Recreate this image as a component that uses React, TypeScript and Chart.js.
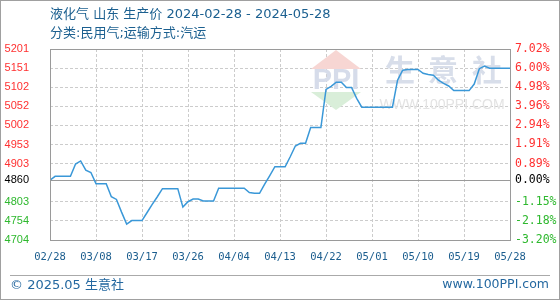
import React, { useEffect, useRef } from 'react';
import { Chart, registerables } from 'chart.js';

Chart.register(...registerables);

const TITLE = '液化气 山东 生产价 2024-02-28 - 2024-05-28';
const SUBTITLE = '分类:民用气;运输方式:汽运';
const FOOTER_LEFT = '© 2025.05 生意社';
const FOOTER_RIGHT = 'www.100PPI.com';
const WATERMARK_CN = ['生', '意', '社'];
const WATERMARK_URL = 'WWW.100PPI.COM';

const xTickLabels = ['02/28', '03/08', '03/17', '03/26', '04/04', '04/13', '04/22', '05/01', '05/10', '05/19', '05/28'];
const X_TICK_STEP = 9;

const basePrice = 4860;
const pctTicks = [-3.2, -2.18, -1.15, 0, 0.89, 1.91, 2.94, 3.96, 4.98, 6.0, 7.02];
const priceTickLabels = ['4704', '4754', '4803', '4860', '4903', '4953', '5002', '5052', '5102', '5151', '5201'];
const pctTickLabels = ['-3.20%', '-2.18%', '-1.15%', '0.00%', '0.89%', '1.91%', '2.94%', '3.96%', '4.98%', '6.00%', '7.02%'];

// daily prices 2024-02-28 .. 2024-05-28
const prices = [
  4860, 4870, 4870, 4870, 4870, 4902, 4910, 4886, 4880, 4851,
  4851, 4851, 4817, 4810, 4777, 4746, 4755, 4755, 4755, 4776,
  4797, 4817, 4838, 4838, 4838, 4838, 4790, 4804, 4811, 4811,
  4806, 4806, 4806, 4839, 4839, 4839, 4839, 4839, 4839, 4828,
  4826, 4826, 4850, 4872, 4895, 4895, 4895, 4921, 4949, 4956,
  4956, 4997, 4997, 4997, 5096, 5104, 5115, 5115, 5101, 5101,
  5073, 5050, 5050, 5050, 5050, 5050, 5050, 5050, 5120, 5146,
  5148, 5148, 5148, 5138, 5135, 5133, 5120, 5112, 5105, 5093,
  5093, 5093, 5093, 5110, 5150, 5157, 5151, 5151, 5151, 5151,
  5151,
];

const yTickValues = pctTicks.map((p) => basePrice * (1 + p / 100));

const TEXT_FONT = '"DejaVu Sans", "Noto Sans CJK SC"';

const decorPlugin = {
  id: 'decor',
  beforeDraw(chart: any) {
    const ctx = chart.ctx;
    ctx.save();
    ctx.fillStyle = '#ffffff';
    ctx.fillRect(0, 0, chart.width, chart.height);
    ctx.restore();
  },
  beforeDatasetsDraw(chart: any) {
    const ctx = chart.ctx;
    const a = chart.chartArea;
    const ys = chart.scales.y;
    ctx.save();
    // watermark logo
    const cx = a.left + 286;
    ctx.fillStyle = '#f7d6d3';
    ctx.beginPath();
    ctx.moveTo(cx, a.top + 1);
    ctx.lineTo(cx + 25, a.top + 20);
    ctx.lineTo(cx - 25, a.top + 20);
    ctx.closePath();
    ctx.fill();
    ctx.fillStyle = '#d9eed9';
    ctx.beginPath();
    ctx.moveTo(cx - 25, a.top + 43);
    ctx.lineTo(cx + 25, a.top + 43);
    ctx.lineTo(cx, a.top + 61);
    ctx.closePath();
    ctx.fill();
    ctx.fillStyle = '#d6dcea';
    ctx.font = 'bold 29px "Liberation Sans"';
    ctx.textAlign = 'center';
    ctx.textBaseline = 'middle';
    ctx.fillText('PPI', cx, a.top + 32);
    ctx.font = 'bold 30px "Noto Sans CJK SC"';
    ctx.fillStyle = '#d8deea';
    const cnX = [a.left + 350, a.left + 393, a.left + 437];
    WATERMARK_CN.forEach((c, i) => ctx.fillText(c, cnX[i], a.top + 21));
    ctx.font = '14px "Liberation Sans"';
    ctx.fillStyle = '#e3e3e3';
    ctx.fillText(WATERMARK_URL, a.left + 392, a.top + 56);

    // baseline
    const by = Math.round(ys.getPixelForValue(basePrice)) + 0.5;
    ctx.strokeStyle = '#9a9a9a';
    ctx.lineWidth = 1;
    ctx.beginPath();
    ctx.moveTo(a.left, by);
    ctx.lineTo(a.right, by);
    ctx.stroke();
    ctx.restore();
  },
  afterDraw(chart: any) {
    const ctx = chart.ctx;
    const a = chart.chartArea;
    const xs = chart.scales.x;
    const ys = chart.scales.y;
    ctx.save();
    // plot frame
    ctx.strokeStyle = '#9a9a9a';
    ctx.lineWidth = 1;
    ctx.strokeRect(Math.round(a.left) + 0.5, Math.round(a.top) + 0.5, Math.round(a.right - a.left), Math.round(a.bottom - a.top));

    // left price labels
    ctx.textBaseline = 'middle';
    ctx.font = '11px "Liberation Sans"';
    ctx.textAlign = 'right';
    yTickValues.forEach((v, i) => {
      const p = pctTicks[i];
      ctx.fillStyle = p > 0 ? '#ff3030' : p < 0 ? '#2eb82e' : '#000000';
      ctx.fillText(priceTickLabels[i], a.left - 21, ys.getPixelForValue(v));
    });
    // right pct labels
    ctx.font = '11.5px "DejaVu Sans Mono"';
    ctx.textAlign = 'left';
    yTickValues.forEach((v, i) => {
      const p = pctTicks[i];
      ctx.fillStyle = p > 0 ? '#ff3030' : p < 0 ? '#2eb82e' : '#000000';
      ctx.fillText(pctTickLabels[i], a.right + 5, ys.getPixelForValue(v));
    });
    // x labels
    ctx.font = '10.5px "DejaVu Sans Mono"';
    ctx.textAlign = 'center';
    ctx.fillStyle = '#1b5d8e';
    xTickLabels.forEach((l, i) => {
      ctx.fillText(l, xs.getPixelForValue(i * X_TICK_STEP), a.bottom + 17);
    });

    // title
    ctx.textAlign = 'left';
    ctx.fillStyle = '#1c6090';
    ctx.font = '13px ' + TEXT_FONT;
    ctx.fillText(TITLE, 50, 15);
    ctx.fillText(SUBTITLE, 50, 34);

    // footer
    ctx.strokeStyle = '#aaaaaa';
    ctx.beginPath();
    ctx.moveTo(10, 275.5);
    ctx.lineTo(550, 275.5);
    ctx.stroke();
    ctx.fillStyle = '#2468a0';
    ctx.font = '13px ' + TEXT_FONT;
    ctx.fillText(FOOTER_LEFT, 10, 286);
    ctx.textAlign = 'right';
    ctx.font = '12.5px "DejaVu Sans"';
    ctx.fillText(FOOTER_RIGHT, 549, 285);

    // outer border
    ctx.strokeStyle = '#a0a0a0';
    ctx.strokeRect(0.5, 0.5, chart.width - 1, chart.height - 1);
    ctx.restore();
  },
};

export default function App() {
  const ref = useRef<HTMLCanvasElement>(null);
  useEffect(() => {
    document.body.style.margin = '0';
    const canvas = ref.current!;
    const chart = new Chart(canvas, {
      type: 'line',
      data: {
        datasets: [
          {
            data: prices.map((y, x) => ({ x, y })),
            borderColor: '#3a98d8',
            borderWidth: 1.5,
            pointRadius: 0,
            tension: 0,
            fill: false,
          },
        ],
      },
      options: {
        animation: false,
        responsive: false,
        devicePixelRatio: 1,
        layout: { padding: { left: 50, right: 50, top: 49, bottom: 60 } },
        plugins: {
          legend: { display: false },
          tooltip: { enabled: false },
        },
        scales: {
          x: {
            type: 'linear',
            min: 0,
            max: prices.length - 1,
            afterBuildTicks: (s: any) => {
              s.ticks = xTickLabels.map((_, i) => ({ value: i * X_TICK_STEP }));
            },
            ticks: { display: false },
            grid: { color: '#cccccc', lineWidth: 1, drawTicks: false },
            border: { display: false, dash: [3, 2] },
          },
          y: {
            type: 'linear',
            min: yTickValues[0],
            max: yTickValues[yTickValues.length - 1],
            afterBuildTicks: (s: any) => {
              s.ticks = yTickValues.map((v) => ({ value: v }));
            },
            ticks: { display: false },
            grid: { color: '#cccccc', lineWidth: 1, drawTicks: false },
            border: { display: false, dash: [3, 2] },
          },
        },
      } as any,
      plugins: [decorPlugin],
    });
    return () => chart.destroy();
  }, []);
  return <canvas ref={ref} width={560} height={300} style={{ display: 'block' }} />;
}
